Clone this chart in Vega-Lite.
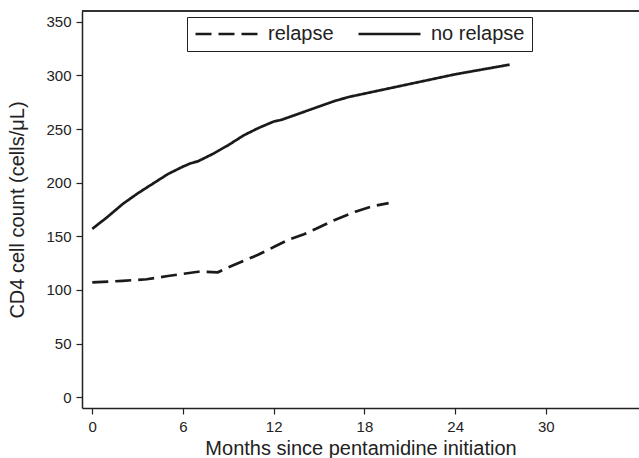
{
  "$schema": "https://vega.github.io/schema/vega-lite/v6.json",
  "width": 557,
  "height": 397,
  "autosize": {"type": "none"},
  "padding": {"left": 82, "top": 11, "right": 0, "bottom": 50},
  "background": "white",
  "config": {
    "font": "Liberation Sans",
    "view": {"stroke": null},
    "axis": {
      "domainColor": "#222222", "domainWidth": 1.5,
      "tickColor": "#222222", "tickWidth": 1.2, "tickSize": 6, "labelPadding": 5,
      "labelColor": "#222222", "labelFontSize": 15, "labelFont": "Liberation Sans",
      "titleColor": "#222222", "titleFontSize": 20, "titleFont": "Liberation Sans", "titleFontWeight": "normal",
      "grid": false
    }
  },
  "data": {
    "values": [
      {"month": 0, "cd4": 157, "group": "no relapse"},
      {"month": 1, "cd4": 168, "group": "no relapse"},
      {"month": 2, "cd4": 180, "group": "no relapse"},
      {"month": 3, "cd4": 190, "group": "no relapse"},
      {"month": 4, "cd4": 199, "group": "no relapse"},
      {"month": 5, "cd4": 208, "group": "no relapse"},
      {"month": 6, "cd4": 215, "group": "no relapse"},
      {"month": 6.5, "cd4": 218, "group": "no relapse"},
      {"month": 7, "cd4": 220, "group": "no relapse"},
      {"month": 8, "cd4": 227, "group": "no relapse"},
      {"month": 9, "cd4": 235, "group": "no relapse"},
      {"month": 10, "cd4": 244, "group": "no relapse"},
      {"month": 11, "cd4": 251, "group": "no relapse"},
      {"month": 12, "cd4": 257, "group": "no relapse"},
      {"month": 12.5, "cd4": 258.5, "group": "no relapse"},
      {"month": 13, "cd4": 261, "group": "no relapse"},
      {"month": 14, "cd4": 266, "group": "no relapse"},
      {"month": 15, "cd4": 271, "group": "no relapse"},
      {"month": 16, "cd4": 276, "group": "no relapse"},
      {"month": 17, "cd4": 280, "group": "no relapse"},
      {"month": 18, "cd4": 283, "group": "no relapse"},
      {"month": 19, "cd4": 286, "group": "no relapse"},
      {"month": 20, "cd4": 289, "group": "no relapse"},
      {"month": 22, "cd4": 295, "group": "no relapse"},
      {"month": 24, "cd4": 301, "group": "no relapse"},
      {"month": 26, "cd4": 306, "group": "no relapse"},
      {"month": 27.6, "cd4": 310, "group": "no relapse"},
      {"month": 0, "cd4": 107, "group": "relapse"},
      {"month": 2, "cd4": 108.5, "group": "relapse"},
      {"month": 3.6, "cd4": 110, "group": "relapse"},
      {"month": 5, "cd4": 113, "group": "relapse"},
      {"month": 6, "cd4": 115, "group": "relapse"},
      {"month": 7, "cd4": 117, "group": "relapse"},
      {"month": 8.3, "cd4": 116.5, "group": "relapse"},
      {"month": 9, "cd4": 121, "group": "relapse"},
      {"month": 10, "cd4": 127, "group": "relapse"},
      {"month": 11, "cd4": 133, "group": "relapse"},
      {"month": 12, "cd4": 140, "group": "relapse"},
      {"month": 13, "cd4": 147, "group": "relapse"},
      {"month": 14, "cd4": 152, "group": "relapse"},
      {"month": 14.8, "cd4": 157, "group": "relapse"},
      {"month": 16, "cd4": 165, "group": "relapse"},
      {"month": 17.4, "cd4": 173, "group": "relapse"},
      {"month": 18.5, "cd4": 178, "group": "relapse"},
      {"month": 19.6, "cd4": 181, "group": "relapse"}
    ]
  },
  "layer": [
    {
      "mark": {"type": "line", "color": "#1a1a1a", "strokeWidth": 2.7, "clip": true},
      "encoding": {
        "x": {
          "field": "month", "type": "quantitative",
          "scale": {"domain": [-0.68, 36.16], "nice": false, "zero": false},
          "axis": {"values": [0, 6, 12, 18, 24, 30], "title": "Months since pentamidine initiation", "titlePadding": 4}
        },
        "y": {
          "field": "cd4", "type": "quantitative",
          "scale": {"domain": [-10, 360], "nice": false, "zero": false},
          "axis": {"values": [0, 50, 100, 150, 200, 250, 300, 350], "title": "CD4 cell count (cells/μL)", "titlePadding": 18}
        },
        "strokeDash": {
          "field": "group", "type": "nominal",
          "scale": {"domain": ["relapse", "no relapse"], "range": [[16, 7], [1, 0]]},
          "legend": {
            "title": null, "orient": "none", "direction": "horizontal",
            "legendX": 105, "legendY": 6,
            "strokeColor": "#222222", "fillColor": "white",
            "padding": 7, "symbolType": "stroke", "symbolSize": 3844, "clipHeight": 20,
            "symbolStrokeWidth": 2.6, "symbolStrokeColor": "#1a1a1a",
            "labelFontSize": 20, "labelColor": "#222222", "labelFont": "Liberation Sans",
            "columnPadding": 23, "labelOffset": 9, "cornerRadius": 0
          }
        },
        "detail": {"field": "group"}
      }
    },
    {
      "mark": {"type": "rule", "color": "#333333", "strokeWidth": 1.5},
      "encoding": {"y": {"datum": 360}}
    }
  ]
}
